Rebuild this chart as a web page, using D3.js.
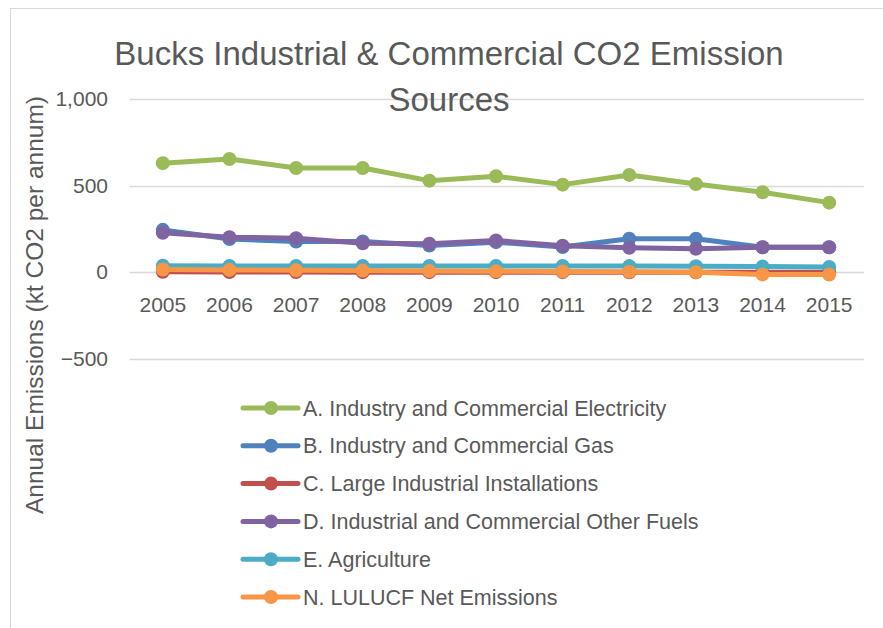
<!DOCTYPE html>
<html>
<head>
<meta charset="utf-8">
<script src="https://cdn.jsdelivr.net/npm/d3@7"></script>
<style>
  body { margin: 0; background: #fff; }
  svg text { font-family: "Liberation Sans", Arial, sans-serif; fill: #595959; }
</style>
</head>
<body>
<div id="chart"></div>
<script>
// data
const years = ["2005", "2006", "2007", "2008", "2009", "2010", "2011", "2012", "2013", "2014", "2015"];
const seriesNames = [
    "A. Industry and Commercial Electricity",
    "B. Industry and Commercial Gas",
    "C. Large Industrial Installations",
    "D. Industrial and Commercial Other Fuels",
    "E. Agriculture",
    "N. LULUCF Net Emissions"
];
const electricity = [630, 654, 602, 602, 529, 554, 506, 562, 510, 462, 402];
const gas = [245, 192, 178, 178, 155, 174, 146, 194, 194, 145, 145];
const largeInstallations = [3, 2, 2, 1, 1, 1, 1, 0, 0, 0, 0];
const otherFuels = [228, 203, 197, 168, 165, 184, 153, 142, 136, 145, 145];
const agriculture = [38, 37, 37, 37, 37, 37, 37, 36, 35, 33, 31];
const lulucf = [16, 14, 12, 10, 8, 6, 5, 3, 1, -12, -13];
const yTicks = [-500, 0, 500, 1000];
const colors = ["#9BBB59", "#4F81BD", "#C0504D", "#8064A2", "#4BACC6", "#F79646"];

const allSeries = [electricity, gas, largeInstallations, otherFuels, agriculture, lulucf];

const width = 883, height = 628;
const svg = d3.select("#chart").append("svg")
    .attr("width", width)
    .attr("height", height);

// chart border
svg.append("rect")
    .attr("x", 10.5).attr("y", 8.5)
    .attr("width", 900).attr("height", 700)
    .attr("fill", "none")
    .attr("stroke", "#d9d9d9")
    .attr("stroke-width", 1);

const x = d3.scalePoint()
    .domain(years)
    .range([129.5, 862.5])
    .padding(0.5);

const y = d3.scaleLinear()
    .domain([-500, 1000])
    .range([359, 99]);

// gridlines
svg.append("g")
    .selectAll("line")
    .data(yTicks)
    .enter().append("line")
    .attr("x1", 129.5)
    .attr("x2", 864)
    .attr("y1", d => Math.round(y(d)) + 0.5)
    .attr("y2", d => Math.round(y(d)) + 0.5)
    .attr("stroke", "#d9d9d9")
    .attr("stroke-width", 1.5);

// y-axis labels
svg.append("g")
    .selectAll("text")
    .data(yTicks)
    .enter().append("text")
    .attr("x", 108)
    .attr("y", d => y(d) + 7)
    .attr("text-anchor", "end")
    .style("font-size", "21px")
    .text(d => d3.format(",")(d));

// x-axis labels (sit under the zero line)
svg.append("g")
    .selectAll("text")
    .data(years)
    .enter().append("text")
    .attr("x", d => x(d))
    .attr("y", y(0) + 40)
    .attr("text-anchor", "middle")
    .style("font-size", "21px")
    .text(d => d);

// lines and markers
const line = d3.line()
    .x((d, i) => x(years[i]))
    .y(d => y(d));

allSeries.forEach((values, s) => {
    const g = svg.append("g");
    g.append("path")
        .datum(values)
        .attr("d", line)
        .attr("fill", "none")
        .attr("stroke", colors[s])
        .attr("stroke-width", 5)
        .attr("stroke-linejoin", "round");
    g.selectAll("circle")
        .data(values)
        .enter().append("circle")
        .attr("cx", (d, i) => x(years[i]))
        .attr("cy", d => y(d))
        .attr("r", 7)
        .attr("fill", colors[s]);
});

// title
const title = svg.append("text")
    .attr("text-anchor", "middle")
    .style("font-size", "33px");
title.append("tspan").attr("x", 449).attr("y", 65).text("Bucks Industrial & Commercial CO2 Emission");
title.append("tspan").attr("x", 449).attr("y", 111).text("Sources");

// y-axis title
svg.append("text")
    .attr("transform", "translate(43,305) rotate(-90)")
    .attr("text-anchor", "middle")
    .style("font-size", "24.5px")
    .text("Annual Emissions (kt CO2 per annum)");

// legend
const legend = svg.append("g");
seriesNames.forEach((name, i) => {
    const ly = 408 + i * 37.8;
    legend.append("line")
        .attr("x1", 243).attr("x2", 298)
        .attr("y1", ly).attr("y2", ly)
        .attr("stroke", colors[i])
        .attr("stroke-width", 5)
        .attr("stroke-linecap", "round");
    legend.append("circle")
        .attr("cx", 271).attr("cy", ly)
        .attr("r", 7)
        .attr("fill", colors[i]);
    legend.append("text")
        .attr("x", 303)
        .attr("y", ly + 7.5)
        .style("font-size", "21.5px")
        .text(name);
});
</script>
</body>
</html>
